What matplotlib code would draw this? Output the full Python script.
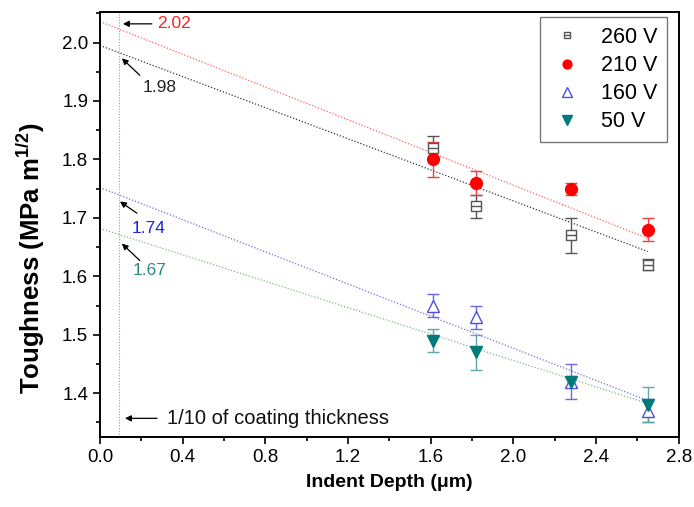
import numpy as np
import matplotlib
matplotlib.use("Agg")
import matplotlib.pyplot as plt
from matplotlib.ticker import MultipleLocator
from matplotlib.legend_handler import HandlerTuple

plt.rcParams["font.family"] = ["Liberation Sans", "DejaVu Sans"]
plt.rcParams["mathtext.fontset"] = "custom"
plt.rcParams["mathtext.rm"] = "Liberation Sans"
plt.rcParams["mathtext.bf"] = "Liberation Sans:bold"

# indent depth (um) and toughness (MPa m^1/2) per bias voltage
depth = [1.61, 1.82, 2.28, 2.65]
tough_260 = [1.82, 1.72, 1.67, 1.62]
err_260 = [0.02, 0.02, 0.03, 0.01]
tough_210 = [1.80, 1.76, 1.75, 1.68]
err_210 = [0.03, 0.02, 0.01, 0.02]
tough_160 = [1.55, 1.53, 1.42, 1.37]
err_160 = [0.02, 0.02, 0.03, 0.02]
tough_50 = [1.49, 1.47, 1.42, 1.38]
err_50 = [0.02, 0.03, 0.01, 0.03]

# linear trend lines (intercept at zero depth, slope)
fit_260 = (1.995, -0.133)
fit_210 = (2.036, -0.140)
fit_160 = (1.752, -0.1376)
fit_50 = (1.682, -0.113)
fit_end = 2.65

# value read at one tenth of coating thickness
tenth_depth = 0.09
label_260 = "1.98"
label_210 = "2.02"
label_160 = "1.74"
label_50 = "1.67"

fig = plt.figure(figsize=(6.94, 5.07), dpi=100)
ax = fig.add_axes([0.144, 0.138, 0.834, 0.838])

xf = np.array([0.0, fit_end])
for (b, m), col in [(fit_210, "#ff6060"), (fit_260, "#333333"),
                    (fit_160, "#6f6fe0"), (fit_50, "#7fb87f")]:
    ax.plot(xf, b + m * xf, ls=(0, (1, 1.5)), lw=0.9, color=col, zorder=1)

ax.axvline(tenth_depth, ls=(0, (1, 1.5)), lw=0.8, color="#999999", zorder=1)

# 260 V: open square with centre bar
ax.errorbar(depth, tough_260, yerr=err_260, fmt="none", ecolor="#555555",
            elinewidth=1.0, capsize=4, capthick=1.0, zorder=3)
h260a, = ax.plot(depth, tough_260, ls="none", marker="s", ms=6.5, mfc="white",
                 mec="#555555", mew=1.0, zorder=4)
h260b, = ax.plot(depth, tough_260, ls="none", marker="_", ms=6.5,
                 mec="#555555", mew=1.0, zorder=5)

ax.errorbar(depth, tough_210, yerr=err_210, fmt="none", ecolor="#f04040",
            elinewidth=1.0, capsize=4, capthick=1.0, zorder=3)
h210, = ax.plot(depth, tough_210, ls="none", marker="o", ms=8.5, mfc="#ff0000",
                mec="#ff0000", zorder=4)

ax.errorbar(depth, tough_160, yerr=err_160, fmt="none", ecolor="#6a6ae8",
            elinewidth=1.0, capsize=4, capthick=1.0, zorder=3)
h160, = ax.plot(depth, tough_160, ls="none", marker="^", ms=9, mfc="white",
                mec="#5050e0", mew=1.0, zorder=4)

ax.errorbar(depth, tough_50, yerr=err_50, fmt="none", ecolor="#5fa8a8",
            elinewidth=1.0, capsize=4, capthick=1.0, zorder=3)
h50, = ax.plot(depth, tough_50, ls="none", marker="v", ms=9, mfc="#007a7a",
               mec="#007a7a", zorder=4)

arrow = dict(arrowstyle="-|>", color="black", lw=0.9, mutation_scale=9,
             shrinkA=0, shrinkB=0)
ax.annotate("", xy=(0.111, 2.032), xytext=(0.251, 2.032), arrowprops=arrow)
ax.text(0.276, 2.032, label_210, color="#ff2020", fontsize=12.5, va="center")
ax.annotate("", xy=(0.106, 1.973), xytext=(0.193, 1.944), arrowprops=arrow)
ax.text(0.208, 1.923, label_260, color="#222222", fontsize=12.5, va="center")
ax.annotate("", xy=(0.097, 1.728), xytext=(0.179, 1.708), arrowprops=arrow)
ax.text(0.155, 1.682, label_160, color="#2020e0", fontsize=12.5, va="center")
ax.annotate("", xy=(0.106, 1.656), xytext=(0.193, 1.627), arrowprops=arrow)
ax.text(0.160, 1.610, label_50, color="#2a8a80", fontsize=12.5, va="center")
ax.annotate("", xy=(0.121, 1.357), xytext=(0.276, 1.357), arrowprops=arrow)
ax.text(0.324, 1.357, "1/10 of coating thickness", color="#111111",
        fontsize=14.5, va="center")

ax.set_xlim(0, 2.8)
ax.set_ylim(1.325, 2.052)
ax.xaxis.set_major_locator(MultipleLocator(0.4))
ax.xaxis.set_minor_locator(MultipleLocator(0.2))
ax.yaxis.set_major_locator(MultipleLocator(0.1))
ax.yaxis.set_minor_locator(MultipleLocator(0.05))
ax.tick_params(which="both", direction="out", width=1.2, labelsize=13.5,
               top=False, right=False)
ax.tick_params(which="major", length=5)
ax.tick_params(which="minor", length=3)
for s in ax.spines.values():
    s.set_linewidth(1.4)

ax.set_xlabel("Indent Depth (μm)", fontsize=14, fontweight="bold", labelpad=6)
ax.set_ylabel(r"Toughness (MPa m$\mathbf{^{1/2}}$)", fontsize=18.5,
              fontweight="bold")
ax.yaxis.set_label_coords(-0.092, 0.42)

leg = ax.legend([(h260a, h260b), h210, h160, h50],
                ["260 V", "210 V", "160 V", "50 V"],
                handler_map={tuple: HandlerTuple(ndivide=1, pad=0)},
                loc="upper right", bbox_to_anchor=(0.98, 0.988),
                borderaxespad=0, fontsize=15.5, fancybox=False,
                edgecolor="#777777", framealpha=1, handlelength=1.6,
                handletextpad=0.8, labelspacing=0.33, borderpad=0.45,
                markerscale=0.75)
leg.get_frame().set_linewidth(1.0)

fig.savefig("out.png", dpi=100)
